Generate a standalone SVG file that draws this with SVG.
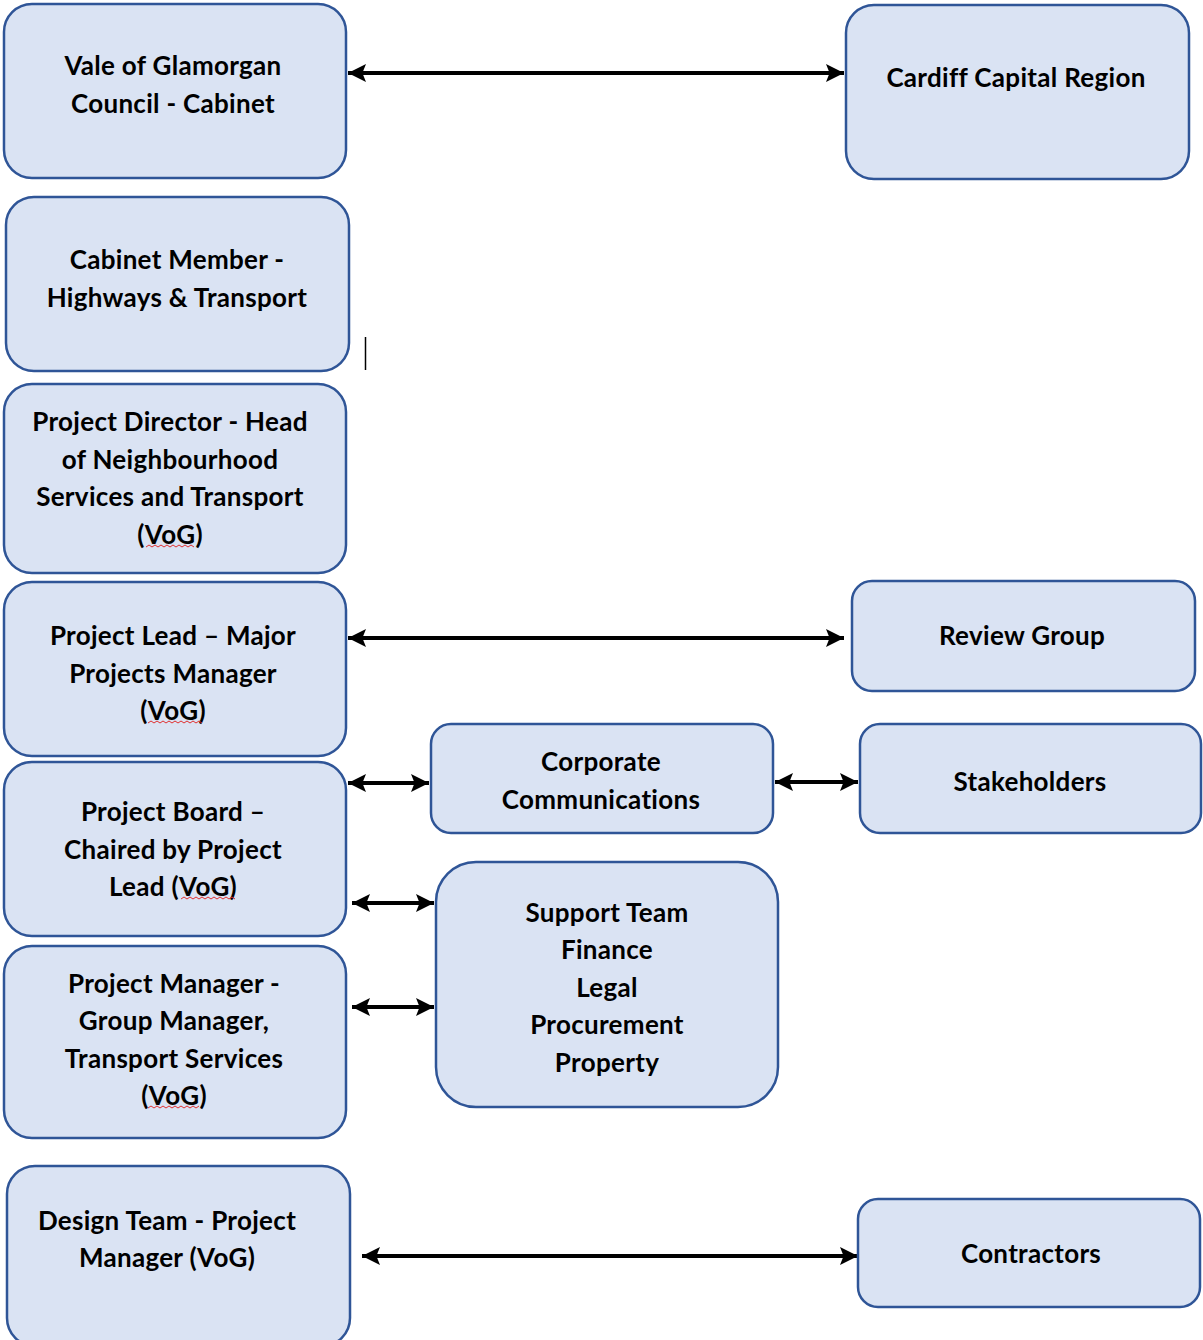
<svg xmlns="http://www.w3.org/2000/svg" width="1203" height="1340" viewBox="0 0 1203 1340">
<style>
.box{fill:#dae3f3;stroke:#2f5597;stroke-width:2.5}
.t{font-family:Lato,"Liberation Sans",sans-serif;font-weight:700;font-size:26px;letter-spacing:0.3px;fill:#000;text-anchor:middle}
.c{stroke:#000;stroke-width:4;fill:none;marker-start:url(#ah);marker-end:url(#ah)}
.sq{stroke:#e03030;stroke-width:1;fill:none}
</style>
<defs>
<marker id="ah" viewBox="0 0 10 10" refX="10" refY="5" markerWidth="4.5" markerHeight="4.5" orient="auto-start-reverse" markerUnits="strokeWidth">
<path d="M0,0 L10,5 L0,10 L2,5 Z" fill="#000"/>
</marker>
</defs>
<rect width="1203" height="1340" fill="#fff"/>
<g id="connectors">
<line class="c" x1="348" y1="73" x2="844" y2="73"/>
<line class="c" x1="348" y1="638" x2="844" y2="638"/>
<line class="c" x1="348" y1="783" x2="429" y2="783"/>
<line class="c" x1="775" y1="782" x2="858" y2="782"/>
<line class="c" x1="352" y1="903" x2="434" y2="903"/>
<line class="c" x1="352" y1="1007" x2="434" y2="1007"/>
<line class="c" x1="362" y1="1256" x2="858" y2="1256"/>
</g>
<g id="vale">
<rect class="box" x="4" y="4" width="342" height="174" rx="28"/>
<text class="t" x="173" y="75">Vale of Glamorgan</text>
<text class="t" x="173" y="113">Council - Cabinet</text>
</g>
<g id="cardiff">
<rect class="box" x="846" y="5" width="343" height="174" rx="28"/>
<text class="t" x="1016" y="87">Cardiff Capital Region</text>
</g>
<g id="cabinet-member">
<rect class="box" x="6" y="197" width="343" height="174" rx="28"/>
<text class="t" x="177" y="269">Cabinet Member -</text>
<text class="t" x="177" y="307">Highways &amp; Transport</text>
</g>
<line x1="365.5" y1="337" x2="365.5" y2="370" stroke="#000" stroke-width="1.5"/>
<g id="project-director">
<rect class="box" x="4" y="384" width="342" height="189" rx="28"/>
<text class="t" x="170" y="431">Project Director - Head</text>
<text class="t" x="170" y="469">of Neighbourhood</text>
<text class="t" x="170" y="506">Services and Transport</text>
<text class="t" x="170" y="544">(VoG)</text>
<path class="sq" d="M146,547 l3,-2 l3,2 l3,-2 l3,2 l3,-2 l3,2 l3,-2 l3,2 l3,-2 l3,2 l3,-2 l3,2 l3,-2 l3,2 l3,-2 l3,2"/>
</g>
<g id="project-lead">
<rect class="box" x="4" y="582" width="342" height="174" rx="28"/>
<text class="t" x="173" y="645">Project Lead – Major</text>
<text class="t" x="173" y="683">Projects Manager</text>
<text class="t" x="173" y="720">(VoG)</text>
<path class="sq" d="M148,723 l3,-2 l3,2 l3,-2 l3,2 l3,-2 l3,2 l3,-2 l3,2 l3,-2 l3,2 l3,-2 l3,2 l3,-2 l3,2 l3,-2 l3,2 l3,-2 l3,2"/>
</g>
<g id="review-group">
<rect class="box" x="852" y="581" width="343" height="110" rx="20"/>
<text class="t" x="1022" y="645">Review Group</text>
</g>
<g id="corporate-communications">
<rect class="box" x="431" y="724" width="342" height="109" rx="20"/>
<text class="t" x="601" y="771">Corporate</text>
<text class="t" x="601" y="809">Communications</text>
</g>
<g id="stakeholders">
<rect class="box" x="860" y="724" width="341" height="109" rx="20"/>
<text class="t" x="1030" y="791">Stakeholders</text>
</g>
<g id="project-board">
<rect class="box" x="4" y="762" width="342" height="174" rx="28"/>
<text class="t" x="173" y="821">Project Board –</text>
<text class="t" x="173" y="859">Chaired by Project</text>
<text class="t" x="173" y="896">Lead (VoG)</text>
<path class="sq" d="M181,899 l3,-2 l3,2 l3,-2 l3,2 l3,-2 l3,2 l3,-2 l3,2 l3,-2 l3,2 l3,-2 l3,2 l3,-2 l3,2 l3,-2 l3,2 l3,-2 l3,2"/>
</g>
<g id="support-team">
<rect class="box" x="436" y="862" width="342" height="245" rx="40"/>
<text class="t" x="607" y="922">Support Team</text>
<text class="t" x="607" y="959">Finance</text>
<text class="t" x="607" y="997">Legal</text>
<text class="t" x="607" y="1034">Procurement</text>
<text class="t" x="607" y="1072">Property</text>
</g>
<g id="project-manager">
<rect class="box" x="4" y="946" width="342" height="192" rx="28"/>
<text class="t" x="174" y="993">Project Manager -</text>
<text class="t" x="174" y="1030">Group Manager,</text>
<text class="t" x="174" y="1068">Transport Services</text>
<text class="t" x="174" y="1105">(VoG)</text>
<path class="sq" d="M148,1108 l3,-2 l3,2 l3,-2 l3,2 l3,-2 l3,2 l3,-2 l3,2 l3,-2 l3,2 l3,-2 l3,2 l3,-2 l3,2 l3,-2 l3,2 l3,-2"/>
</g>
<g id="design-team">
<rect class="box" x="7" y="1166" width="343" height="180" rx="28"/>
<text class="t" x="167" y="1230">Design Team - Project</text>
<text class="t" x="167" y="1267">Manager (VoG)</text>
</g>
<g id="contractors">
<rect class="box" x="858" y="1199" width="342" height="108" rx="20"/>
<text class="t" x="1031" y="1263">Contractors</text>
</g>
</svg>
